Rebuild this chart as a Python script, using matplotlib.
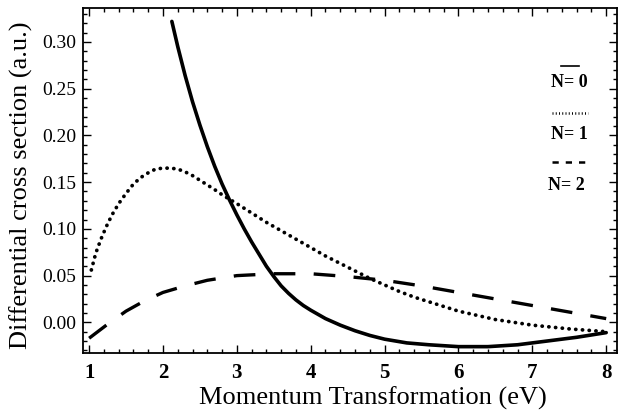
import numpy as np
import matplotlib.pyplot as plt
from matplotlib.ticker import MultipleLocator
from matplotlib.lines import Line2D

# values
x_n0 = [2.12, 2.2, 2.3, 2.4, 2.5, 2.6, 2.7, 2.8, 2.9, 3.0, 3.1, 3.2, 3.3, 3.4, 3.5,
        3.6, 3.7, 3.8, 3.9, 4.0, 4.2, 4.4, 4.6, 4.8, 5.0, 5.3, 5.6, 6.0, 6.4, 6.8,
        7.2, 7.6, 8.0]
y_n0 = [0.322, 0.295, 0.264, 0.236, 0.211, 0.188, 0.167, 0.148, 0.131, 0.115, 0.100,
        0.086, 0.073, 0.060, 0.049, 0.039, 0.031, 0.024, 0.018, 0.013, 0.004, -0.003,
        -0.009, -0.014, -0.018, -0.022, -0.024, -0.026, -0.026, -0.024, -0.020,
        -0.016, -0.011]

x_n1 = [1.03, 1.09, 1.16, 1.23, 1.31, 1.4, 1.5, 1.6, 1.7, 1.8, 1.9, 2.0, 2.1, 2.2, 2.3,
        2.4, 2.56, 2.7, 2.81, 3.0, 3.2, 3.4, 3.6, 3.8, 4.0, 4.2, 4.4, 4.6, 4.8, 5.0,
        5.2, 5.4, 5.6, 6.0, 6.5, 7.0, 7.5, 8.0]
y_n1 = [0.056, 0.074, 0.089, 0.102, 0.115, 0.127, 0.138, 0.148, 0.155, 0.160, 0.164,
        0.165, 0.165, 0.164, 0.161, 0.157, 0.149, 0.142, 0.136, 0.127, 0.117, 0.107,
        0.098, 0.089, 0.080, 0.071, 0.063, 0.055, 0.047, 0.040, 0.033, 0.027, 0.022,
        0.012, 0.003, -0.003, -0.007, -0.010]

x_n2 = [1.0, 1.25, 1.5, 1.75, 2.0, 2.3, 2.6, 3.0, 3.5, 4.0, 4.5, 5.0, 5.5, 6.0, 6.5,
        7.0, 7.5, 8.0]
y_n2 = [-0.017, -0.002, 0.012, 0.023, 0.032, 0.039, 0.045, 0.050, 0.052, 0.052, 0.049,
        0.045, 0.039, 0.032, 0.025, 0.018, 0.011, 0.004]

labels = ['N= 0', 'N= 1', 'N= 2']

plt.rcParams['font.family'] = ['Liberation Serif', 'DejaVu Serif']

fig = plt.figure(figsize=(6.21, 4.16), dpi=100)
ax = fig.add_axes([0.134, 0.151, 0.860, 0.829])

ax.plot(x_n0, y_n0, color='black', lw=2.6, solid_capstyle='round', solid_joinstyle='round')
ax.plot(x_n1, y_n1, color='black', lw=2.7, linestyle=(0, (0.05, 1.75)), dash_capstyle='round')
ax.plot(x_n2, y_n2, color='black', lw=2.4, linestyle=(0, (6.5, 5.5)))

ax.set_xlim(0.92, 8.15)
ax.set_ylim(-0.033, 0.336)
ax.xaxis.set_major_locator(MultipleLocator(1))
ax.xaxis.set_minor_locator(MultipleLocator(0.2))
ax.yaxis.set_minor_locator(MultipleLocator(0.01))
ax.set_yticks(np.arange(0, 0.31, 0.05))
ax.set_yticklabels(['%.2f' % v for v in np.arange(0, 0.31, 0.05)])
ax.tick_params(which='both', direction='in', top=True, right=True, width=1.0)
ax.tick_params(which='major', length=6)
ax.tick_params(which='minor', length=3)
ax.tick_params(axis='x', labelsize=15, pad=7)
ax.tick_params(axis='y', labelsize=14, pad=5)
for t in ax.get_xticklabels():
    t.set_fontweight('bold')
for s in ax.spines.values():
    s.set_linewidth(1.3)

ax.set_xlabel('Momentum Transformation (eV)', fontsize=19)
ax.xaxis.set_label_coords(0.543, -0.097)
ax.set_ylabel('Differential cross section (a.u.)', fontsize=19)
ax.yaxis.set_label_coords(-0.094, 0.487)

# hand-made legend: line sample above each label
styles = [dict(lw=1.2, linestyle='-'),
          dict(lw=1.8, linestyle=(0, (0.4, 0.9))),
          dict(lw=1.8, linestyle=(0, (2.5, 2.8)))]
sample_x = [(0.894, 0.928), (0.878, 0.946), (0.878, 0.946)]
sample_y = [0.832, 0.696, 0.554]
label_y = [0.786, 0.635, 0.487]
label_x = [0.911, 0.911, 0.905]
for lab, st, sx, sy, lx, ly in zip(labels, styles, sample_x, sample_y, label_x, label_y):
    ax.add_line(Line2D(sx, [sy, sy], color='black', transform=ax.transAxes, **st))
    ax.text(lx, ly, lab, transform=ax.transAxes, fontsize=13, fontweight='bold',
            ha='center', va='center')

fig.savefig('out.png', dpi=100)
